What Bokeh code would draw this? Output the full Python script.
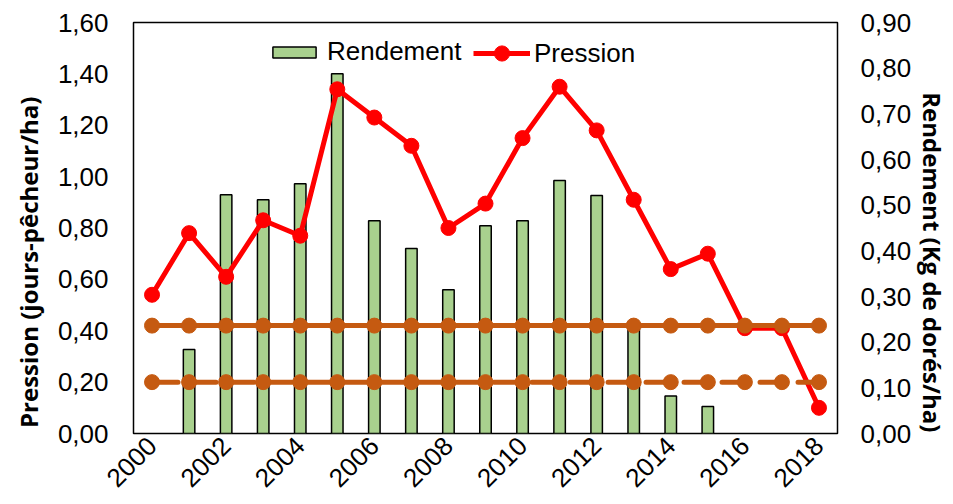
from bokeh.plotting import figure
from bokeh.models import Range1d, LinearAxis, FixedTicker, CustomJSTickFormatter, Legend, LegendItem
from bokeh.embed import file_html
from bokeh.resources import INLINE
import math

nan = float("nan")
years = list(range(2000, 2019))
pression = [0.54, 0.78, 0.61, 0.83, 0.77, 1.34, 1.23, 1.12, 0.80, 0.895, 1.15, 1.35, 1.18, 0.91, 0.64, 0.70, 0.41, 0.41, 0.10]
rendement = [nan, 0.184, 0.523, 0.512, 0.547, 0.788, 0.466, 0.405, 0.315, 0.455, 0.466, 0.554, 0.521, 0.236, 0.082, 0.059, nan, nan, nan]
seuil_haut = [0.42] * 19
seuil_bas = [0.20] * 19
left_ticks = [0.0, 0.2, 0.4, 0.6, 0.8, 1.0, 1.2, 1.4, 1.6]
right_ticks = [0.0, 0.1, 0.2, 0.3, 0.4, 0.5, 0.6, 0.7, 0.8, 0.9]
x_ticks = list(range(2000, 2019, 2))

FONT = "Liberation Sans"
TFONT = "Open Sans"
FS = "26px"
PAD = "\u00a0" * 11

p = figure(width=952, height=500, output_backend="svg", toolbar_location=None,
           x_range=Range1d(1999.5, 2018.5), y_range=Range1d(0, 1.6),
           min_border_left=133, min_border_right=114, min_border_top=22, min_border_bottom=67)
p.extra_y_ranges = {"rend": Range1d(0, 0.9)}

p.grid.visible = False
p.outline_line_color = "black"
p.outline_line_width = 1.5
p.background_fill_color = "white"
p.border_fill_color = "white"

fmt = CustomJSTickFormatter(code="return tick.toFixed(2).replace('.', ',');")

ya = p.yaxis[0]
ya.ticker = FixedTicker(ticks=left_ticks)
ya.formatter = fmt
ya.axis_label = "Pression (jours-pêcheur/ha)" + PAD

ra = LinearAxis(y_range_name="rend", ticker=FixedTicker(ticks=right_ticks), formatter=fmt,
                axis_label=PAD + "Rendement (Kg de dorés/ha)")
p.add_layout(ra, "right")

xa = p.xaxis[0]
xa.ticker = FixedTicker(ticks=x_ticks)
xa.major_label_orientation = math.pi / 4

for ax in [ya, ra, xa]:
    ax.axis_line_color = None
    ax.major_tick_line_color = None
    ax.minor_tick_line_color = None
    ax.major_tick_out = 0
    ax.major_tick_in = 0
    ax.major_label_text_font = FONT
    ax.major_label_text_font_size = FS
    ax.major_label_text_color = "black"
    ax.axis_label_text_font = TFONT
    ax.axis_label_text_font_style = "bold"
    ax.axis_label_text_font_size = "24px"
    ax.axis_label_text_color = "black"

ya.major_label_standoff = 25
ya.axis_label_standoff = 10
ra.major_label_standoff = 23
ra.axis_label_standoff = 2
xa.major_label_standoff = 8

bars = p.vbar(x=years, top=rendement, width=0.31, y_range_name="rend",
              fill_color="#A9D18E", line_color="black", line_width=1.5)

pl = p.line(years, pression, line_color="#FF0000", line_width=5)
ps = p.scatter(years, pression, size=15, fill_color="#FF0000", line_color="#FF0000")

ORANGE = "#C55A11"
p.line(years, seuil_haut, line_color=ORANGE, line_width=5)
p.scatter(years, seuil_haut, size=15, fill_color=ORANGE, line_color=ORANGE)
p.line(years, seuil_bas, line_color=ORANGE, line_width=5, line_dash="26 12", line_cap="round")
p.scatter(years, seuil_bas, size=15, fill_color=ORANGE, line_color=ORANGE)

legend1 = Legend(items=[LegendItem(label="Rendement", renderers=[bars])],
                 orientation="horizontal", location=(134, 366),
                 label_text_font=FONT, label_text_font_size=FS, label_text_color="black",
                 glyph_width=54, glyph_height=14, label_standoff=6, spacing=6,
                 border_line_color=None, background_fill_alpha=0, padding=4, margin=0)
legend2 = Legend(items=[LegendItem(label="Pression", renderers=[pl, ps])],
                 orientation="horizontal", location=(340, 361),
                 label_text_font=FONT, label_text_font_size=FS, label_text_color="black",
                 glyph_width=57, glyph_height=38, label_standoff=4, spacing=6,
                 border_line_color=None, background_fill_alpha=0, padding=4, margin=0)
p.add_layout(legend1, "center")
p.add_layout(legend2, "center")

open("out.html", "w").write(file_html(p, INLINE))
